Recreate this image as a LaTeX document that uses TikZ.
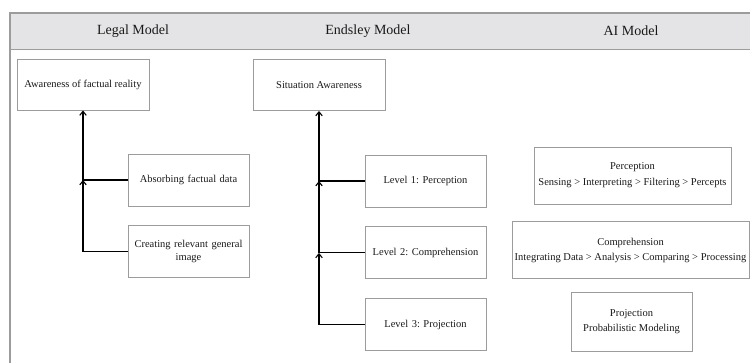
\documentclass[tikz,border=0pt]{standalone}
\usepackage{fontspec}
\setmainfont{Liberation Serif}
\usepackage{xcolor}
\usepackage{tikz}
\usetikzlibrary{calc,positioning,arrows.meta}
\definecolor{boxgray}{HTML}{9C9C9C}
\definecolor{bandgray}{HTML}{E4E4E6}
\frenchspacing
\tikzset{
  line/.style={-{Straight Barb[length=4pt,width=6.5pt,line width=1.1pt]}, line width=1.1pt},
  box/.style={draw=boxgray, line width=0.9pt, align=center, inner sep=2pt,
    font=\fontsize{10.5}{13}\selectfont, text=black!90},
  legalbox/.style={box, minimum width=121pt, minimum height=52pt, text width=117pt},
  topbox/.style={box, minimum width=132pt, minimum height=51pt},
  aibox/.style={box, minimum height=57pt},
  head/.style={font=\fontsize{14}{16}\selectfont, text=black!90}
}

\begin{document}
\begin{tikzpicture}[x=1pt, y=-1pt, node distance=19pt]
  \useasboundingbox (0,0) rectangle (750,363);
  % header band and frame
  \fill[bandgray] (10,13) rectangle (750,49);
  \draw[boxgray, line width=1.2pt] (10,363) -- (10,13) -- (750,13);
  \draw[boxgray, line width=0.9pt] (10,49) -- (750,49);
  \node[head] (hlegal) at (133,31) {Legal Model};
  \node[head] (hends) at (368,31) {Endsley Model};
  \node[head] (hai) at (631,31) {AI Model};

  % legal model
  \node[topbox] (aware) at (83,84.5) {Awareness of factual reality};
  \node[legalbox] (absorb) at (188.5,180) {Absorbing factual data};
  \node[legalbox, below=of absorb] (create) {Creating relevant general\\image};
  \coordinate (jlegal) at (aware.south |- absorb.west);
  \draw[line] (absorb.west) -| (aware.south);
  \draw[line] (create.west) -| (jlegal);

  % endsley model
  \node[topbox] (sa) at (319,85) {Situation Awareness};
  \node[legalbox] (lvl1) at (425.5,181) {Level 1: Perception};
  \node[legalbox, below=of lvl1] (lvl2) {Level 2: Comprehension};
  \node[legalbox, below=of lvl2] (lvl3) {Level 3: Projection};
  \coordinate (jone) at (sa.south |- lvl1.west);
  \coordinate (jtwo) at (sa.south |- lvl2.west);
  \draw[line] (lvl1.west) -| (sa.south);
  \draw[line] (lvl2.west) -| (jone);
  \draw[line] (lvl3.west) -| (jtwo);

  % ai model
  \node[aibox, minimum width=197pt] (aiperc) at (632.5,175.5)
    {Perception\\[3pt]Sensing > Interpreting > Filtering > Percepts};
  \node[aibox, minimum width=237pt, inner sep=1pt] (aicomp) at (630.5,250)
    {Comprehension\\[2pt]Integrating Data > Analysis > Comparing > Processing};
  \node[aibox, minimum width=121pt, minimum height=59pt] (aiproj) at (631.5,321.5)
    {Projection\\[2pt]Probabilistic Modeling};
\end{tikzpicture}
\end{document}
